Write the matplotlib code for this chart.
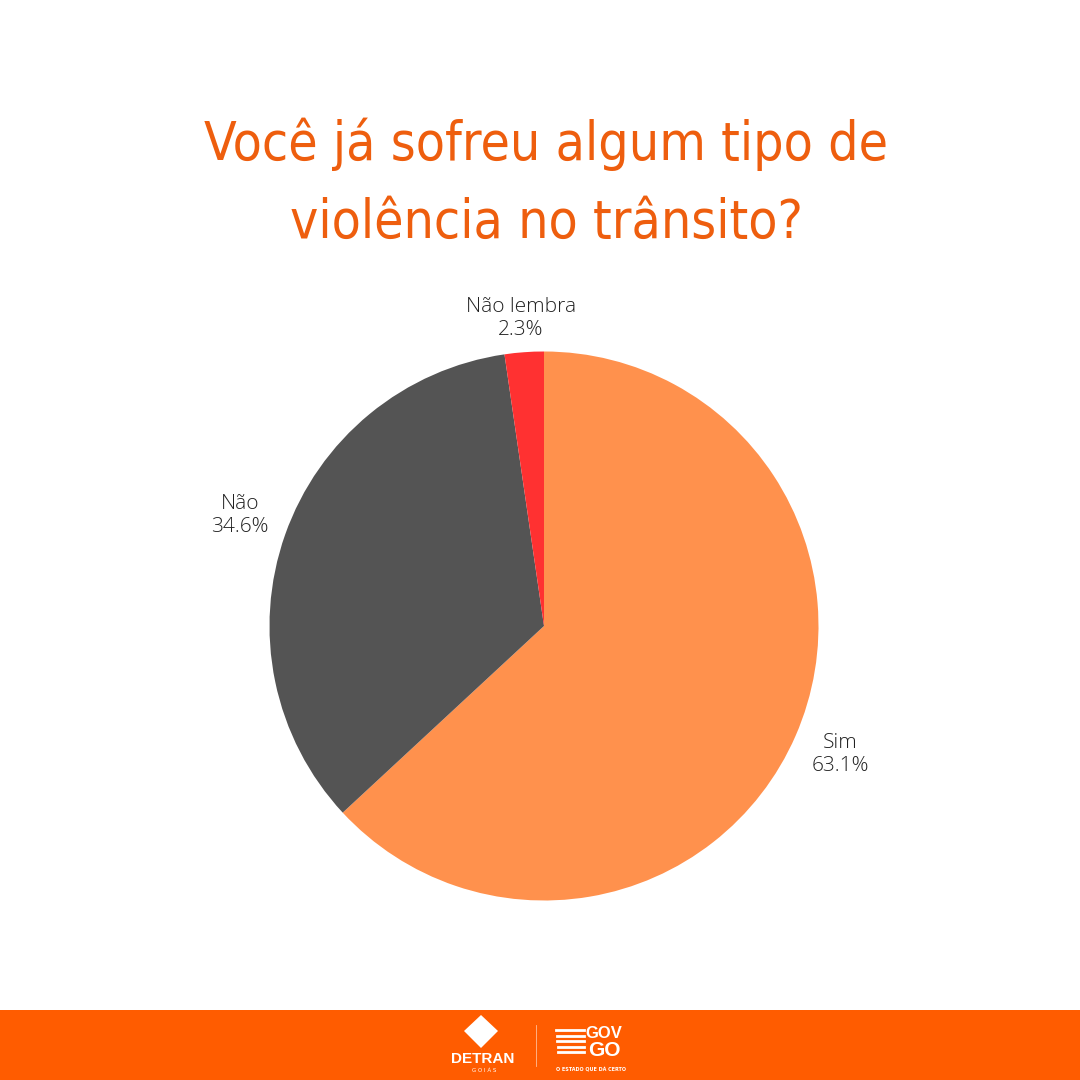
import numpy as np
import matplotlib
matplotlib.use("Agg")
import matplotlib.pyplot as plt
from matplotlib.patches import Rectangle, Polygon

# ---- data ----
categories = ["Sim", "Não", "Não lembra"]
values = [63.1, 34.6, 2.3]
colors = ["#FF914D", "#545454", "#FF3131"]
title_lines = ["Você já sofreu algum tipo de", "violência no trânsito?"]

# label placement (angle in degrees, radius as fraction of pie radius)
label_angles = [-23.5, 160.0, 94.3]
label_radii = [1.177, 1.178, 1.125]

W = H = 1080
fig = plt.figure(figsize=(10.8, 10.8), dpi=100)
ax = fig.add_axes([0, 0, 1, 1])
ax.set_xlim(0, W)
ax.set_ylim(0, H)
ax.set_aspect("equal")
ax.axis("off")
fig.patch.set_facecolor("white")

cx, cy, R = 544, H - 626, 274.5
wedges, _ = ax.pie(values, colors=colors, startangle=90, counterclock=False,
                   center=(cx, cy), radius=R, frame=True,
                   wedgeprops=dict(linewidth=0))
ax.set_xlim(0, W)
ax.set_ylim(0, H)
ax.axis("off")

for cat, v, a, r in zip(categories, values, label_angles, label_radii):
    t = np.deg2rad(a)
    ax.text(cx + r * R * np.cos(t), cy + r * R * np.sin(t), f"{cat}\n{v}%",
            ha="center", va="center", multialignment="center",
            fontsize=15, family="Open Sans", fontweight=300,
            color="#222222", linespacing=1.2)

# title
title_color = "#EE5E0E"
titles = []
for line, yb in zip(title_lines, [160, 238]):
    titles.append(ax.text(546, H - yb, line, ha="center", va="baseline", fontsize=48,
                          family="DejaVu Sans", fontstretch="condensed",
                          color=title_color))
# fit first line width to ~683 px
fig.canvas.draw()
r = fig.canvas.get_renderer()
w0 = titles[0].get_window_extent(r).width
fs = 48 * 683.0 / w0
for t in titles:
    t.set_fontsize(fs)

# footer band
ax.add_patch(Rectangle((0, 0), W, 70, facecolor="#FF5C00", edgecolor="none"))
# DETRAN logo (approximation)
ax.add_patch(Polygon([(481, H - 1015), (498, H - 1031), (481, H - 1048), (464, H - 1031)],
                     closed=True, facecolor="white", edgecolor="none"))
ax.text(483, H - 1059, "DETRAN", ha="center", va="center", fontsize=11,
        fontweight="bold", color="white", family="Liberation Sans")
ax.text(484, H - 1071, "G O I Á S", ha="center", va="center", fontsize=4,
        color="white", family="DejaVu Sans")
ax.plot([536, 536], [H - 1025, H - 1066], color="white", lw=0.6, alpha=0.6)
# GOV GO logo (approximation)
for i in range(5):
    y = H - 1030 - i * 5.5
    ax.plot([556 + i * 0.5, 584], [y, y], color="white", lw=2)
ax.text(604, H - 1033, "GOV", ha="center", va="center", fontsize=12,
        fontweight="bold", color="white", family="Liberation Sans")
ax.text(604, H - 1051, "GO", ha="center", va="center", fontsize=15,
        fontweight="bold", color="white", family="Liberation Sans")
ax.text(591, H - 1069, "O ESTADO QUE DÁ CERTO", ha="center", va="center",
        fontsize=3.5, fontweight="bold", color="white", family="DejaVu Sans")

fig.savefig("out.png", dpi=100, facecolor="white")
